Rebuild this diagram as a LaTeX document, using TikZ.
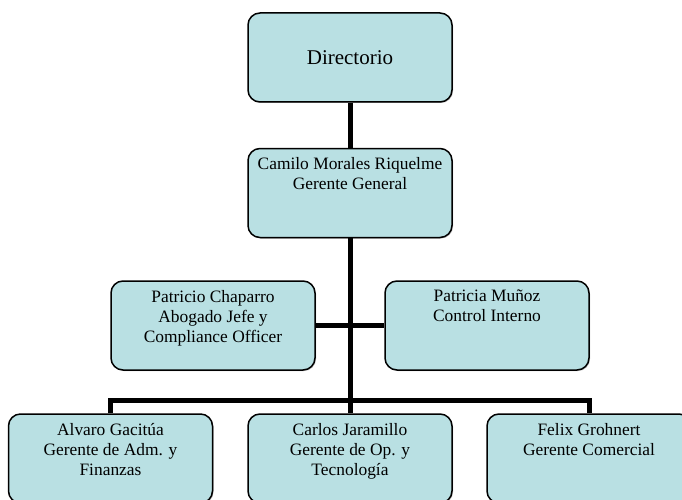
\documentclass[tikz,border=0pt]{standalone}
\usepackage{fontspec}
\setmainfont{Liberation Serif}
\usepackage{tikz}
\usetikzlibrary{positioning, shadows}
\usepackage{xcolor}
\definecolor{rolefill}{RGB}{185,224,227}
\newcommand{\roletext}[1]{\parbox[c][89pt][t]{204pt}{\centering\vspace*{9pt}#1}}
\tikzset{
  role/.style={
    rectangle, rounded corners=12pt, draw=black, line width=1.5pt,
    fill=rolefill, inner sep=0pt,
    drop shadow={shadow xshift=1pt, shadow yshift=-1pt, fill=black!55},
    minimum width=204pt, minimum height=89pt,
    align=center, font=\fontsize{17.4pt}{20pt}\selectfont
  },
  link/.style={line width=5pt, draw=black}
}

\begin{document}
\begin{tikzpicture}[x=1pt, y=-1pt]
  \useasboundingbox (0,0) rectangle (682,500);
  \clip (0,0) rectangle (682,500);

  \node[role, font=\fontsize{21pt}{24pt}\selectfont] (dir) at (350,57.5) {Directorio};
  \node[role, below=45pt of dir] (ger) {\roletext{Camilo Morales Riquelme\\Gerente General}};
  \node[role] (abo) at (213,325.5) {\roletext{Patricio Chaparro\\Abogado Jefe y\\Compliance Officer}};
  \node[role] (ctl) at (487,325.5) {\roletext{Patricia Muñoz\\Control Interno}};
  \node[role] (adm) at (110.5,458.5) {\roletext{Alvaro Gacitúa\\Gerente de Adm. y\\Finanzas}};
  \node[role] (ope) at (350,458.5) {\roletext{Carlos Jaramillo\\Gerente de Op. y\\Tecnología}};
  \node[role] (com) at (589,458.5) {\roletext{Felix Grohnert\\Gerente Comercial}};
  \coordinate (bus) at (350,400);

  \draw[link] (dir) -- (ger);
  \draw[link] (ger) -- (bus);
  \draw[link] (abo) -- (ctl);
  \draw[link] (adm.north) |- (bus) -| (com.north);
  \draw[link] (bus) -- (ope);
\end{tikzpicture}
\end{document}
